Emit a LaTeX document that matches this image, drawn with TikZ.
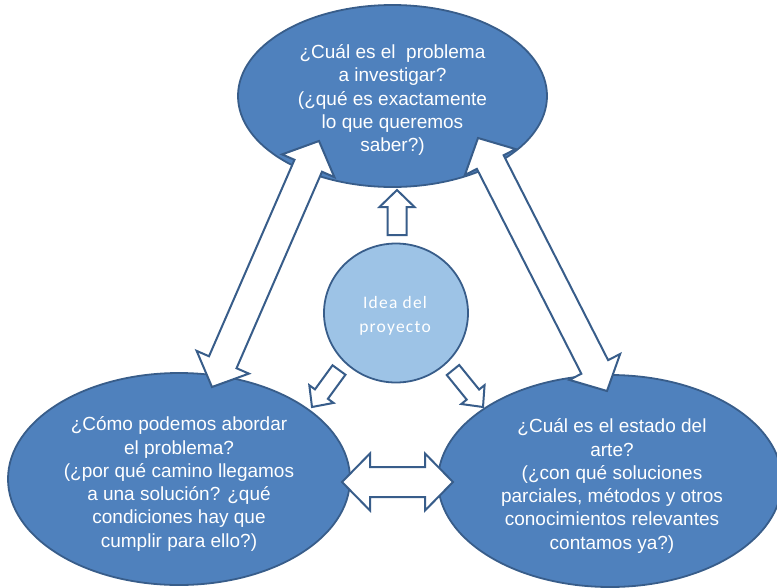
\documentclass[tikz,border=0pt]{standalone}
\usepackage{fontspec}
\setmainfont{Liberation Sans}
\newfontfamily\ideafont{Carlito}[LetterSpace=7]
\usetikzlibrary{shapes.geometric,calc}
\definecolor{fillblue}{HTML}{4F81BD}
\definecolor{edgeblue}{HTML}{385D8A}
\definecolor{lightblue}{HTML}{9DC3E6}
\tikzset{
 bubble/.style={ellipse, draw=edgeblue, fill=fillblue, line width=1.8pt, inner sep=0pt},
 bubbletext/.style={inner sep=0pt, text=white, align=center, font=\fontsize{19}{23.3}\selectfont},
 idea/.style={ellipse, draw=edgeblue, fill=lightblue, line width=1.8pt, inner sep=0pt},
 ideatext/.style={inner sep=0pt, text=white, align=center, font=\ideafont\fontsize{17.5}{24}\selectfont},
 blockarrow/.style={draw=edgeblue, fill=white, line width=2pt, line join=miter},
}
\newcommand\dblblock[5]{%
 \path ($(#1)!#3!(#2)$) coordinate (m1) ($(#2)!#3!(#1)$) coordinate (m2);
 \draw[blockarrow] (#1) -- ($(m1)!#4!90:(#2)$) -- ($(m1)!#5!90:(#2)$) -- ($(m2)!#5!-90:(#1)$) -- ($(m2)!#4!-90:(#1)$) -- (#2) -- ($(m2)!#4!90:(#1)$) -- ($(m2)!#5!90:(#1)$) -- ($(m1)!#5!-90:(#2)$) -- ($(m1)!#4!-90:(#2)$) -- cycle;}
\newcommand\oneblock[5]{%
 \path ($(#2)!#3!(#1)$) coordinate (m0);
 \draw[blockarrow] ($(#1)!#5!90:(#2)$) -- ($(m0)!#5!-90:(#1)$) -- ($(m0)!#4!-90:(#1)$) -- (#2) -- ($(m0)!#4!90:(#1)$) -- ($(m0)!#5!90:(#1)$) -- ($(#1)!#5!-90:(#2)$) -- cycle;}
\begin{document}
\begin{tikzpicture}[x=1pt,y=-1pt]
\fill[white] (0,0) rectangle (777,587);
\useasboundingbox (0,0) rectangle (777,587);
\clip (0,0) rectangle (777,587);
\node[bubble, minimum width=309pt, minimum height=182pt] (top) at (392.5,96) {};
\node[bubble, minimum width=342pt, minimum height=212pt] (bl) at (179,479) {};
\node[bubble, minimum width=344pt, minimum height=212pt] (br) at (610,481) {};
\node[bubbletext] (toptext) at ($(top.center)+(0,4)$)
 {¿Cuál es el\ \ problema\\a investigar?\\(¿qué es exactamente\\lo que queremos\\saber?)};
\node[bubbletext] (bltext) at ($(bl.center)+(0,5)$)
 {¿Cómo podemos abordar\\el problema?\\(¿por qué camino llegamos\\a una solución? ¿qué\\condiciones hay que\\cumplir para ello?)};
\node[bubbletext] (brtext) at ($(br.center)+(2,5)$)
 {¿Cuál es el estado del\\arte?\\(¿con qué soluciones\\parciales, métodos y otros\\conocimientos relevantes\\contamos ya?)};
\coordinate (lt) at (319,141);
\coordinate (lb) at (212,387);
\coordinate (rt) at (478,138);
\coordinate (rb) at (607,391);
\coordinate (hl) at (342,482);
\coordinate (hr) at (453,482);
\dblblock{lt}{lb}{27pt}{28.5pt}{15pt}
\dblblock{rt}{rb}{27pt}{28.5pt}{15pt}
\dblblock{hl}{hr}{28pt}{28.5pt}{15pt}
\node[idea, minimum width=144pt, minimum height=139pt] (idea) at (396,313) {};
\node[ideatext] (ideatxt) at ($(idea.center)+(-1,3)$) {Idea del\\proyecto};
\coordinate (ut) at (397,235);
\coordinate (up) at (397,190);
\coordinate (dlt) at (339,370);
\coordinate (dlp) at (312,407);
\coordinate (drt) at (453,370);
\coordinate (drp) at (483,407);
\oneblock{ut}{up}{17pt}{17.5pt}{9.5pt}
\oneblock{dlt}{dlp}{16pt}{15pt}{8pt}
\oneblock{drt}{drp}{16pt}{15pt}{8pt}
\end{tikzpicture}
\end{document}
